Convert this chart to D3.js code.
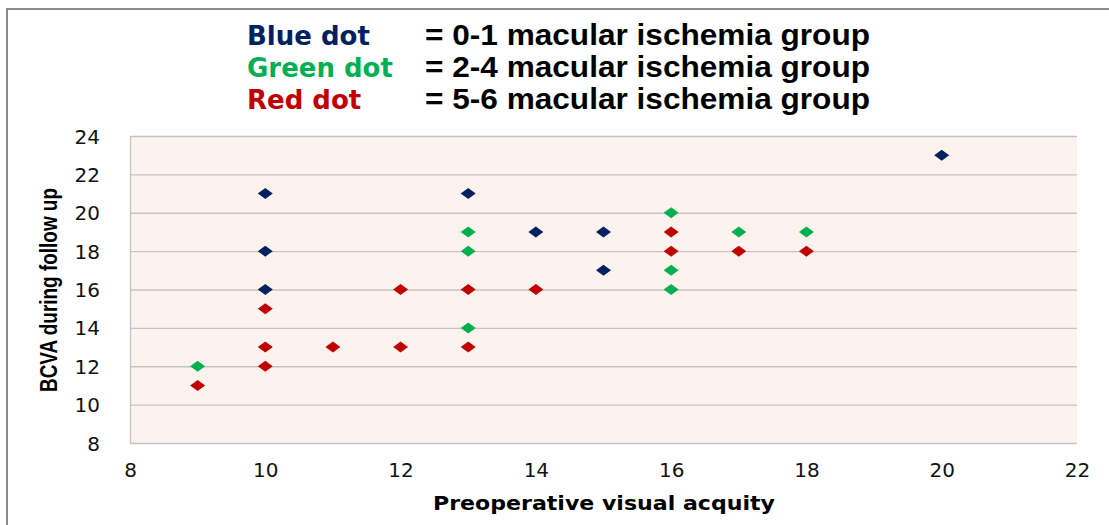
<!DOCTYPE html>
<html>
<head>
<meta charset="utf-8">
<script src="https://cdn.jsdelivr.net/npm/d3@7"></script>
<style>
  body { margin: 0; background: #fff; }
  svg { display: block; }
</style>
</head>
<body>
<div id="chart"></div>
<script>
// data: [preop acuity, BCVA at follow up]
var blueDots  = [[10,21],[10,18],[10,16],[13,21],[14,19],[15,19],[15,17],[20,23]];
var greenDots = [[9,12],[13,19],[13,18],[13,14],[16,20],[16,17],[16,16],[17,19],[18,19]];
var redDots   = [[9,11],[10,15],[10,13],[10,12],[11,13],[12,16],[12,13],[13,16],[13,13],[14,16],
                 [16,19],[16,18],[17,18],[18,18]];
var xTicks = [8, 10, 12, 14, 16, 18, 20, 22];
var yTicks = [8, 10, 12, 14, 16, 18, 20, 22, 24];
var legendNames = ["Blue dot", "Green dot", "Red dot"];
var legendTexts = ["= 0-1 macular ischemia group", "= 2-4 macular ischemia group", "= 5-6 macular ischemia group"];

var W = 1109, H = 525;
var colors = ["#002060", "#00b050", "#c00000"];

var svg = d3.select("#chart").append("svg").attr("width", W).attr("height", H);

// frame, only top and left edges show
svg.append("path").attr("d", "M7," + H + "V9H" + W)
    .attr("fill", "none").attr("stroke", "#8c8c8c").attr("stroke-width", 2);

var x = d3.scaleLinear().domain([8, 22]).range([130, 1077]);
var y = d3.scaleLinear().domain([8, 24]).range([443, 136]);

svg.append("rect").attr("x", x(8)).attr("y", y(24))
    .attr("width", x(22) - x(8)).attr("height", y(8) - y(24))
    .attr("fill", "#fdf3ee");

// gridlines
svg.append("g").selectAll("line").data(yTicks).join("line")
    .attr("x1", x(8)).attr("x2", x(22))
    .attr("y1", d => y(d) + 0.5).attr("y2", d => y(d) + 0.5)
    .attr("stroke", "#c3c3c3").attr("stroke-width", 1.3);

// left axis line
svg.append("line").attr("x1", x(8) + 0.5).attr("x2", x(8) + 0.5)
    .attr("y1", y(24)).attr("y2", y(8))
    .attr("stroke", "#c3c3c3").attr("stroke-width", 1.3);

var yAxis = d3.axisLeft(y).tickValues(yTicks).tickSize(0).tickPadding(30);
var gy = svg.append("g").attr("transform", "translate(" + x(8) + ",0)").call(yAxis);
gy.select(".domain").remove();
gy.selectAll("text").attr("font-family", "DejaVu Sans").attr("font-size", 20)
    .attr("fill", "#111").attr("dy", "0.35em");

var xAxis = d3.axisBottom(x).tickValues(xTicks).tickSize(0).tickPadding(20);
var gx = svg.append("g").attr("transform", "translate(0," + y(8) + ")").call(xAxis);
gx.select(".domain").remove();
gx.selectAll("text").attr("font-family", "DejaVu Sans").attr("font-size", 20)
    .attr("fill", "#111").attr("dy", "0.71em");

// diamonds
var diamond = "M0,-5.5L7.5,0L0,5.5L-7.5,0Z";
[blueDots, greenDots, redDots].forEach(function(series, i) {
    svg.append("g").selectAll("path").data(series).join("path")
        .attr("d", diamond)
        .attr("transform", d => "translate(" + x(d[0]) + "," + y(d[1]) + ")")
        .attr("fill", colors[i]);
});

// axis titles
svg.append("text").attr("transform", "translate(57,290) rotate(-90)")
    .attr("text-anchor", "middle").attr("font-family", "Liberation Sans, sans-serif")
    .attr("font-weight", "bold").attr("font-size", 24).attr("fill", "#000")
    .attr("textLength", 204).attr("lengthAdjust", "spacingAndGlyphs")
    .text("BCVA during follow up");

svg.append("text").attr("x", 604).attr("y", 510)
    .attr("text-anchor", "middle").attr("font-family", "DejaVu Sans")
    .attr("font-weight", "bold").attr("font-size", 19).attr("fill", "#000")
    .attr("textLength", 342).attr("lengthAdjust", "spacingAndGlyphs")
    .text("Preoperative visual acquity");

// legend block
var lg = svg.append("g");
legendNames.forEach(function(name, i) {
    var by = 45 + i * 32;
    lg.append("text").attr("x", 247).attr("y", by)
        .attr("font-family", "DejaVu Sans").attr("font-weight", "bold").attr("font-size", 26)
        .attr("fill", colors[i]).text(name);
    lg.append("text").attr("x", 425).attr("y", by)
        .attr("font-family", "Liberation Sans, sans-serif")
        .attr("font-weight", "bold").attr("font-size", 29).attr("fill", "#000")
        .attr("textLength", 445).attr("lengthAdjust", "spacingAndGlyphs")
        .text(legendTexts[i]);
});
</script>
</body>
</html>
